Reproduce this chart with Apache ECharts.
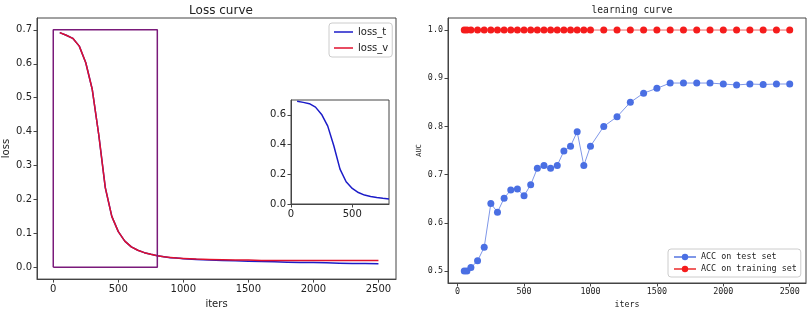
<!DOCTYPE html>
<html>
<head>
<meta charset="utf-8">
<script src="https://cdn.jsdelivr.net/npm/echarts@6/dist/echarts.min.js"></script>
<style>
  html, body { margin: 0; padding: 0; background: #fff; }
  #chart { width: 809px; height: 314px; }
</style>
</head>
<body>
<div id="chart"></div>
<script>
// loss curve data
const lossIters = [50, 100, 150, 200, 250, 300, 350, 400, 450, 500, 550, 600, 650, 700, 750, 800, 850, 900, 950, 1000,
  1100, 1200, 1300, 1400, 1500, 1600, 1700, 1800, 1900, 2000, 2100, 2200, 2300, 2400, 2500]
const lossT = [0.692, 0.684, 0.675, 0.652, 0.603, 0.524, 0.39, 0.235, 0.15, 0.105, 0.077, 0.06, 0.05, 0.043, 0.038, 0.034, 0.031, 0.028, 0.027, 0.025,
  0.023, 0.021, 0.02, 0.019, 0.018, 0.017, 0.016, 0.015, 0.014, 0.014, 0.013, 0.012, 0.011, 0.011, 0.01]
const lossV = [0.692, 0.684, 0.675, 0.652, 0.603, 0.524, 0.39, 0.235, 0.15, 0.105, 0.077, 0.06, 0.05, 0.043, 0.038, 0.034, 0.031, 0.029, 0.027, 0.026,
  0.024, 0.023, 0.022, 0.021, 0.021, 0.02, 0.02, 0.02, 0.02, 0.02, 0.02, 0.02, 0.02, 0.02, 0.02]
// zoom box drawn on the loss plot
const boxX = [0, 0, 800, 800, 0]
const boxY = [0, 0.7, 0.7, 0, 0]

// learning curve data
const accIters = [50, 70, 100, 150, 200, 250, 300, 350, 400, 450, 500, 550, 600, 650, 700, 750, 800, 850, 900, 950, 1000,
  1100, 1200, 1300, 1400, 1500, 1600, 1700, 1800, 1900, 2000, 2100, 2200, 2300, 2400, 2500]
const accTest = [0.5, 0.5, 0.507, 0.521, 0.549, 0.64, 0.622, 0.651, 0.668, 0.67, 0.656, 0.679, 0.713, 0.719, 0.713, 0.719, 0.749, 0.759, 0.789, 0.719, 0.759,
  0.8, 0.82, 0.85, 0.869, 0.879, 0.89, 0.89, 0.89, 0.89, 0.888, 0.886, 0.888, 0.887, 0.888, 0.888]
const accTrain = accIters.map(() => 1.0)

// tick labels
const lossXTicks = [0, 500, 1000, 1500, 2000, 2500]
const lossYTicks = [0, 0.1, 0.2, 0.3, 0.4, 0.5, 0.6, 0.7]
const insetXTicks = [0, 500]
const insetYTicks = [0, 0.2, 0.4, 0.6]
const accXTicks = [0, 500, 1000, 1500, 2000, 2500]
const accYTicks = [0.5, 0.6, 0.7, 0.8, 0.9, 1.0]

const pair = (xs, ys) => xs.map((x, i) => [x, ys[i]])

const sans = 'DejaVu Sans'
const mono = 'DejaVu Sans Mono'

const oneDec = v => v.toFixed(1)
const plain = v => String(v)

function axis(gridIndex, min, max, ticks, font, size, fmt, extra) {
  return Object.assign({
    type: 'value',
    gridIndex: gridIndex,
    min: min,
    max: max,
    axisLine: { show: true, onZero: false, lineStyle: { color: '#444', width: 1 } },
    axisTick: { show: true, customValues: ticks, length: 3.5, lineStyle: { color: '#444' } },
    axisLabel: {
      customValues: ticks,
      formatter: fmt,
      color: '#222',
      fontFamily: font,
      fontSize: size,
      margin: 5
    },
    splitLine: { show: false }
  }, extra || {})
}

const option = {
  animation: false,
  title: [
    {
      text: 'Loss curve',
      left: 216, top: 0, textAlign: 'center',
      textStyle: { fontFamily: sans, fontSize: 12, fontWeight: 'normal', color: '#222' }
    },
    {
      text: 'learning curve',
      left: 627, top: 0, textAlign: 'center',
      textStyle: { fontFamily: mono, fontSize: 9.6, fontWeight: 'normal', color: '#222' }
    }
  ],
  grid: [
    { left: 37, top: 18, width: 359, height: 266, show: true, borderColor: '#444', borderWidth: 1 },
    { left: 291, top: 100, width: 98, height: 104, show: true, borderColor: '#444', borderWidth: 1, z: 5, backgroundColor: '#fff' },
    { left: 448, top: 18, width: 358, height: 266, show: true, borderColor: '#444', borderWidth: 1 }
  ],
  legend: [
    {
      data: [{ name: 'loss_t', icon: 'rect' }, { name: 'loss_v', icon: 'rect' }],
      orient: 'vertical',
      left: 329, top: 23,
      itemWidth: 19, itemHeight: 1.5, itemGap: 6,
      padding: [4, 4, 4, 5],
      borderColor: '#ccc', borderWidth: 1, borderRadius: 3,
      textStyle: { fontFamily: sans, fontSize: 10, color: '#222' }
    },
    {
      data: ['ACC on test set', 'ACC on training set'],
      orient: 'vertical',
      left: 668, top: 249,
      itemWidth: 22, itemHeight: 8, itemGap: 4,
      padding: [4, 4, 4, 5],
      borderColor: '#ccc', borderWidth: 1, borderRadius: 3,
      backgroundColor: '#fff',
      textStyle: { fontFamily: mono, fontSize: 8.4, color: '#222' }
    }
  ],
  xAxis: [
    axis(0, -125, 2635, lossXTicks, sans, 10, plain, {
      name: 'iters', nameLocation: 'middle', nameGap: 18,
      nameTextStyle: { fontFamily: sans, fontSize: 10, color: '#222' }
    }),
    axis(1, 0, 800, insetXTicks, sans, 10, plain, { z: 6 }),
    axis(2, -72.5, 2622.5, accXTicks, mono, 8.4, plain, {
      name: 'iters', nameLocation: 'middle', nameGap: 18,
      nameTextStyle: { fontFamily: mono, fontSize: 8.4, color: '#222' }
    })
  ],
  yAxis: [
    axis(0, -0.035, 0.735, lossYTicks, sans, 10, oneDec, {
      name: 'loss', nameLocation: 'middle', nameGap: 26,
      nameTextStyle: { fontFamily: sans, fontSize: 10, color: '#222' }
    }),
    axis(1, 0, 0.7, insetYTicks, sans, 10, oneDec, { z: 6 }),
    axis(2, 0.475, 1.025, accYTicks, mono, 8.4, oneDec, {
      name: 'AUC', nameLocation: 'middle', nameGap: 25,
      nameTextStyle: { fontFamily: mono, fontSize: 7, color: '#222' }
    })
  ],
  series: [
    {
      name: 'loss_t', type: 'line', xAxisIndex: 0, yAxisIndex: 0,
      data: pair(lossIters, lossT), showSymbol: false,
      lineStyle: { color: '#1c1cc8', width: 1.5 }, itemStyle: { color: '#1c1cc8' }
    },
    {
      name: 'loss_v', type: 'line', xAxisIndex: 0, yAxisIndex: 0,
      data: pair(lossIters, lossV), showSymbol: false,
      lineStyle: { color: '#e0102e', width: 1.5 }, itemStyle: { color: '#e0102e' }
    },
    {
      name: 'box', type: 'line', xAxisIndex: 0, yAxisIndex: 0,
      data: pair(boxX, boxY), showSymbol: false,
      lineStyle: { color: '#7a1a7a', width: 1.5 }
    },
    {
      name: 'inset', type: 'line', xAxisIndex: 1, yAxisIndex: 1, z: 7,
      data: pair(lossIters, lossT).filter(p => p[0] <= 800), showSymbol: false,
      lineStyle: { color: '#1c1cc8', width: 1.5 }
    },
    {
      name: 'ACC on test set', type: 'line', xAxisIndex: 2, yAxisIndex: 2,
      data: pair(accIters, accTest),
      symbol: 'circle', symbolSize: 7,
      lineStyle: { color: '#7f97e8', width: 1 },
      itemStyle: { color: '#4a6fe3' }
    },
    {
      name: 'ACC on training set', type: 'line', xAxisIndex: 2, yAxisIndex: 2,
      data: pair(accIters, accTrain),
      symbol: 'circle', symbolSize: 7,
      lineStyle: { color: '#f06060', width: 1 },
      itemStyle: { color: '#f51c1c' }
    }
  ]
}

const chart = echarts.init(document.getElementById('chart'))
chart.setOption(option)
</script>
</body>
</html>
